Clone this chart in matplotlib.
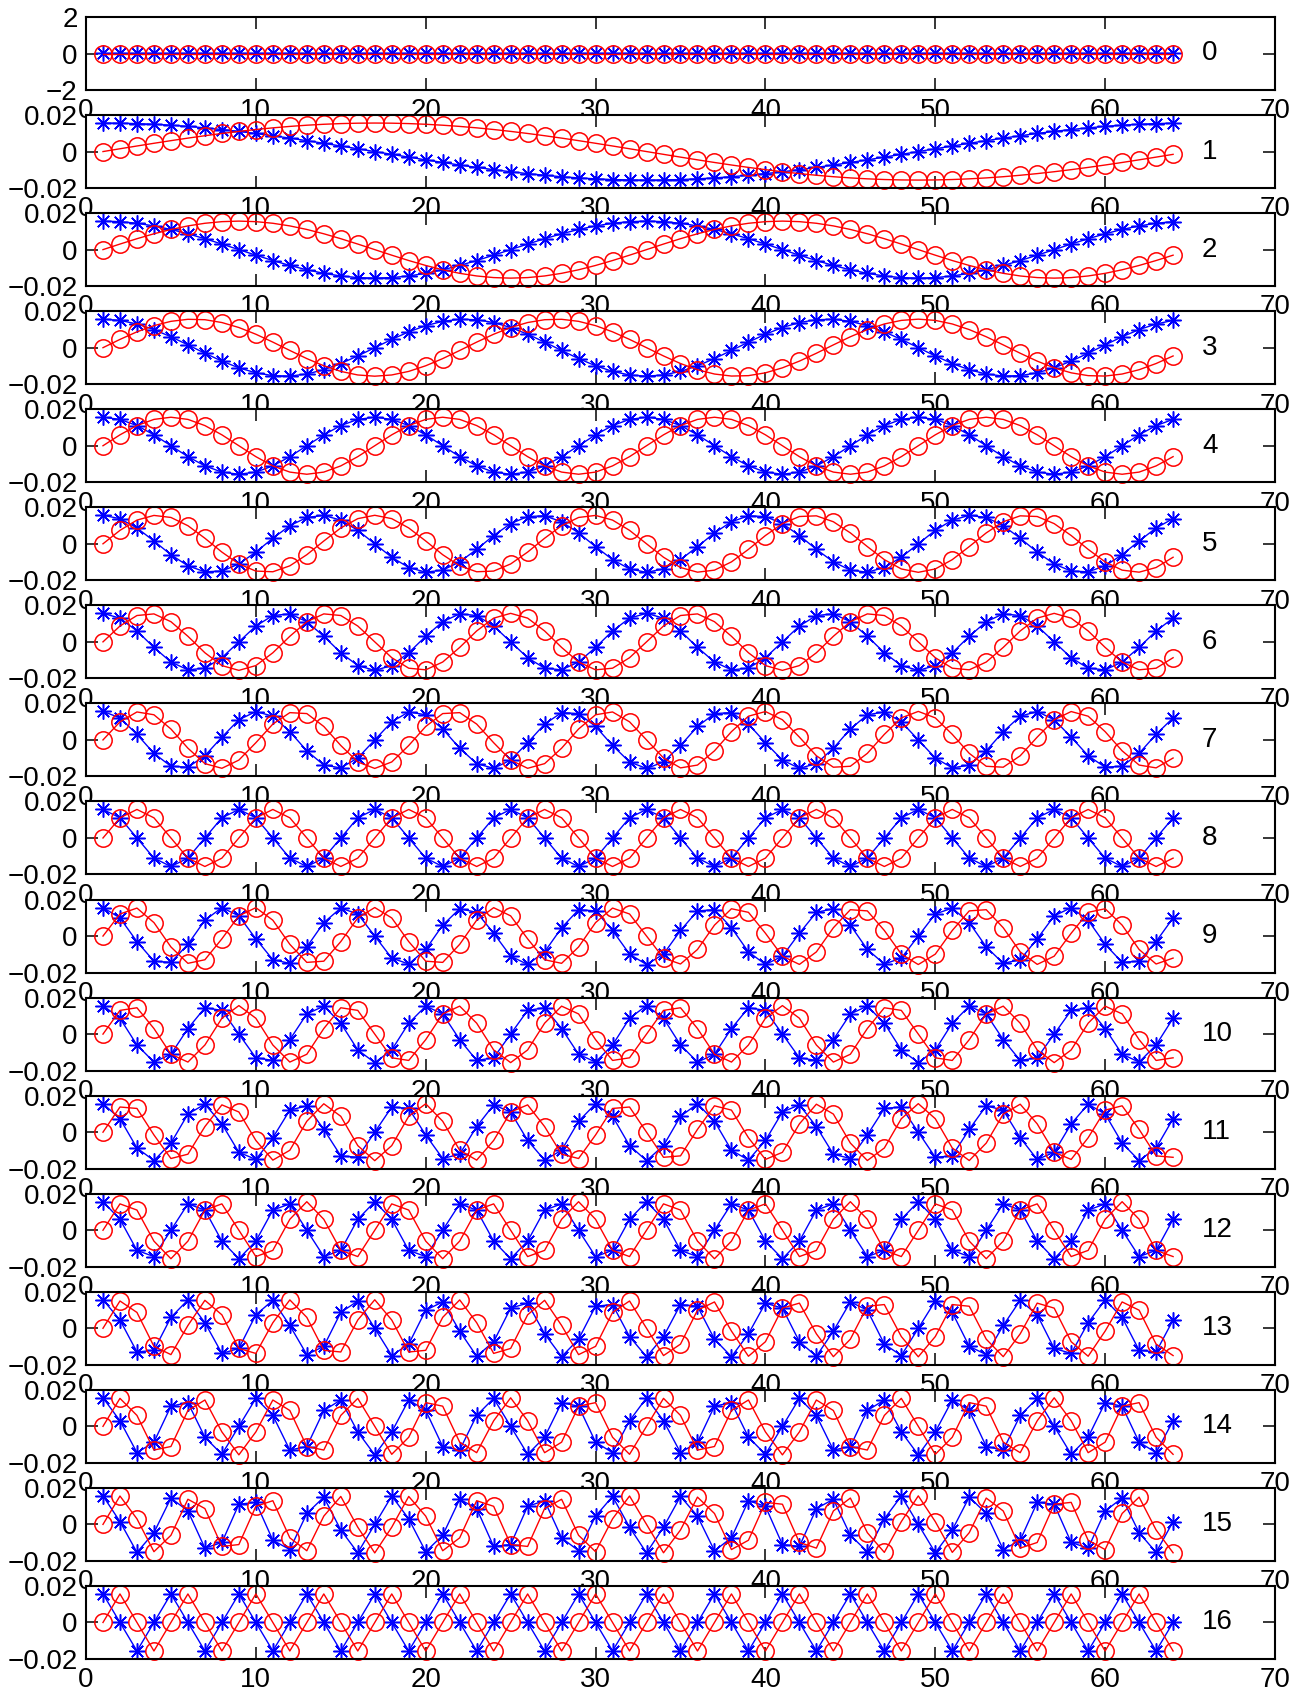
import numpy as np
from matplotlib import pyplot as plt
from matplotlib.ticker import FixedLocator, FixedFormatter

# chart data
freqs = list(range(17))          # one panel per frequency index
n_samples = 64                   # samples 1..64 on the x axis
amplitude = 1.0 / 64             # peak height seen on the panels (~0.0156)
x_ticks = [0, 10, 20, 30, 40, 50, 60, 70]
y_ticks_first = [-2, 0, 2]
y_labels_first = ['\u22122', '0', '2']
y_ticks_rest = [-0.02, 0, 0.02]
y_labels_rest = ['\u22120.02', '0', '0.02']

plt.rcParams['font.family'] = ['Liberation Sans', 'DejaVu Sans']
plt.rcParams['font.size'] = 20

fig = plt.figure(figsize=(13.02, 16.97), dpi=100)
W, H = 1302.0, 1697.0
left, right = 86, 1275
top0, step, h = 17, 98.06, 73

asterisk = (8, 2, 0)
n = np.arange(1, n_samples + 1)

for i, k in enumerate(freqs):
    top = top0 + step * i
    ax = fig.add_axes([left / W, 1 - (top + h) / H, (right - left) / W, h / H])
    phase = 2 * np.pi * k * (n - 1) / n_samples
    re = amplitude * np.cos(phase)
    im = amplitude * np.sin(phase)
    ax.plot(n, re, '-', color='#0000ff', lw=1.0, marker=asterisk,
            markersize=11.5, markeredgewidth=1.1, clip_on=False)
    ax.plot(n, im, '-', color='#ff0000', lw=1.0, marker='o',
            markersize=12.5, markerfacecolor='none', markeredgewidth=1.1, clip_on=False)
    ax.set_xlim(0, 70)
    ax.xaxis.set_major_locator(FixedLocator(x_ticks))
    if i == 0:
        ax.set_ylim(-2, 2)
        ax.yaxis.set_major_locator(FixedLocator(y_ticks_first))
        ax.yaxis.set_major_formatter(FixedFormatter(y_labels_first))
    else:
        ax.set_ylim(-0.02, 0.02)
        ax.yaxis.set_major_locator(FixedLocator(y_ticks_rest))
        ax.yaxis.set_major_formatter(FixedFormatter(y_labels_rest))
    ax.tick_params(direction='in', top=True, right=True, length=8.5, width=1.1)
    ax.tick_params(axis='x', pad=6)
    ax.tick_params(axis='y', pad=6)
    for s in ax.spines.values():
        s.set_linewidth(1.5)
    ax.text(65.7, 0, str(k), ha='left', va='center')

plt.savefig('out.png', dpi=100)
plt.close()
